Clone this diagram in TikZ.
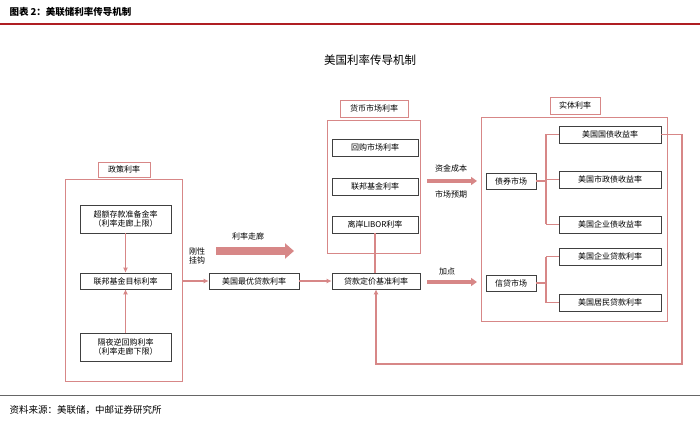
\documentclass[tikz,border=0pt]{standalone}
\usepackage{fontspec}
\setmainfont{Noto Sans CJK SC}
\usetikzlibrary{arrows.meta}
\definecolor{pinkline}{RGB}{215,135,135}
\definecolor{headred}{RGB}{175,30,35}
\tikzset{
  rate/.style={draw=black!75,line width=0.7pt,font=\fontsize{8}{9.5}\selectfont,inner sep=0pt,align=center},
  group/.style={draw=pinkline,line width=0.6pt},
  tag/.style={draw=pinkline,line width=0.5pt,font=\fontsize{8}{9.5}\selectfont,inner sep=0pt},
  link/.style={draw=pinkline,line width=1.5pt},
  flow/.style={link,-{Latex[length=5pt,width=5pt]}},
  wide/.style={draw=pinkline,line width=4pt,-{Triangle[length=6pt,width=8pt]}},
  broad/.style={draw=pinkline,line width=7pt,-{Triangle[length=9pt,width=15pt]}},
  note/.style={font=\fontsize{8}{9.5}\selectfont,align=center}
}
\begin{document}
\begin{tikzpicture}[x=1pt,y=-1pt]
\useasboundingbox (0,0) rectangle (700,427);

% header and footer
\node[anchor=west,font=\bfseries\fontsize{9.5}{11}\selectfont] (head) at (6,12) {图表 2：美联储利率传导机制};
\draw[headred,line width=1.2pt] (0,24) -- (700,24);
\node[font=\fontsize{11.5}{13}\selectfont] (title) at (370,60) {美国利率传导机制};
\draw[black!60,line width=0.6pt] (0,395) -- (700,395);
\node[anchor=west,font=\fontsize{9.5}{11}\selectfont] (src) at (6,410) {资料来源：美联储，中邮证券研究所};

% policy rates
\draw[group] (65,179) rectangle (182,381);
\node[tag,minimum width=52pt,minimum height=15pt] (policy) at (124,169.5) {政策利率};
\node[rate,minimum width=91pt,minimum height=28pt] (ioer) at (125.5,219) {超额存款准备金率\\（利率走廊上限）};
\node[rate,minimum width=91pt,minimum height=16pt] (fftarget) at (125.5,281) {联邦基金目标利率};
\node[rate,minimum width=91pt,minimum height=28pt] (onrrp) at (125.5,347) {隔夜逆回购利率\\（利率走廊下限）};
\draw[flow] (ioer) -- (fftarget);
\draw[flow] (onrrp) -- (fftarget);

% prime rate
\node[note] (peg) at (197,256) {刚性\\挂钩};
\node[rate,minimum width=90pt,minimum height=16pt] (prime) at (254,281) {美国最优贷款利率};
\coordinate (policyR) at (182,281);
\draw[flow] (policyR) -- (prime);
\node[note] (corr) at (248,236) {利率走廊};
\coordinate (corrA) at (216,251);
\coordinate (corrB) at (294,251);
\draw[broad] (corrA) -- (corrB);

% money market
\draw[group] (327,120) rectangle (420,253);
\node[tag,minimum width=68pt,minimum height=17pt] (money) at (374,108.5) {货币市场利率};
\node[rate,minimum width=86pt,minimum height=17pt] (repo) at (375,147.5) {回购市场利率};
\node[rate,minimum width=86pt,minimum height=17pt] (ffund) at (375,186.5) {联邦基金利率};
\node[rate,minimum width=86pt,minimum height=17pt] (libor) at (375,224.5) {离岸LIBOR利率};
\node[rate,minimum width=88pt,minimum height=16pt] (lpr) at (376,281) {贷款定价基准利率};
\draw[flow] (prime) -- (lpr);
\draw[link] (libor.south) -- (libor.south |- lpr.north);

% middle arrows
\node[note] (cost) at (451,168) {资金成本};
\node[note] (expect) at (451,194) {市场预期};
\coordinate (costA) at (427,181);
\coordinate (costB) at (477,181);
\draw[wide] (costA) -- (costB);
\node[note] (spread) at (447,271) {加点};
\coordinate (spreadA) at (427,282);
\coordinate (spreadB) at (477,282);
\draw[wide] (spreadA) -- (spreadB);

% real economy rates
\draw[group] (481,117) rectangle (667,321);
\node[tag,minimum width=50pt,minimum height=17pt] (real) at (575,105.5) {实体利率};
\node[rate,minimum width=50pt,minimum height=16pt] (bond) at (511,181) {债券市场};
\node[rate,minimum width=50pt,minimum height=16pt] (credit) at (511,283) {信贷市场};
\node[rate,minimum width=102pt,minimum height=17pt] (treas) at (610,134.5) {美国国债收益率};
\node[rate,minimum width=102pt,minimum height=17pt] (muni) at (610,179.5) {美国市政债收益率};
\node[rate,minimum width=102pt,minimum height=17pt] (corpb) at (610,224.5) {美国企业债收益率};
\node[rate,minimum width=102pt,minimum height=17pt] (corpl) at (610,256.5) {美国企业贷款利率};
\node[rate,minimum width=102pt,minimum height=17pt] (house) at (610,302.5) {美国居民贷款利率};
\coordinate (bondJ) at (546,181);
\coordinate (creditJ) at (546,283);
\draw[link] (bond) -- (bondJ);
\draw[link] (bondJ |- treas) -- (bondJ |- corpb);
\foreach \t in {treas,muni,corpb} \draw[link] (bondJ |- \t) -- (\t);
\draw[link] (credit) -- (creditJ);
\draw[link] (creditJ |- corpl) -- (creditJ |- house);
\foreach \t in {corpl,house} \draw[link] (creditJ |- \t) -- (\t);

% feedback loop
\coordinate (loopA) at (682,134.5);
\coordinate (loopB) at (682,364);
\draw[flow] (treas) -- (loopA) -- (loopB) -| (lpr.south);

\end{tikzpicture}
\end{document}
